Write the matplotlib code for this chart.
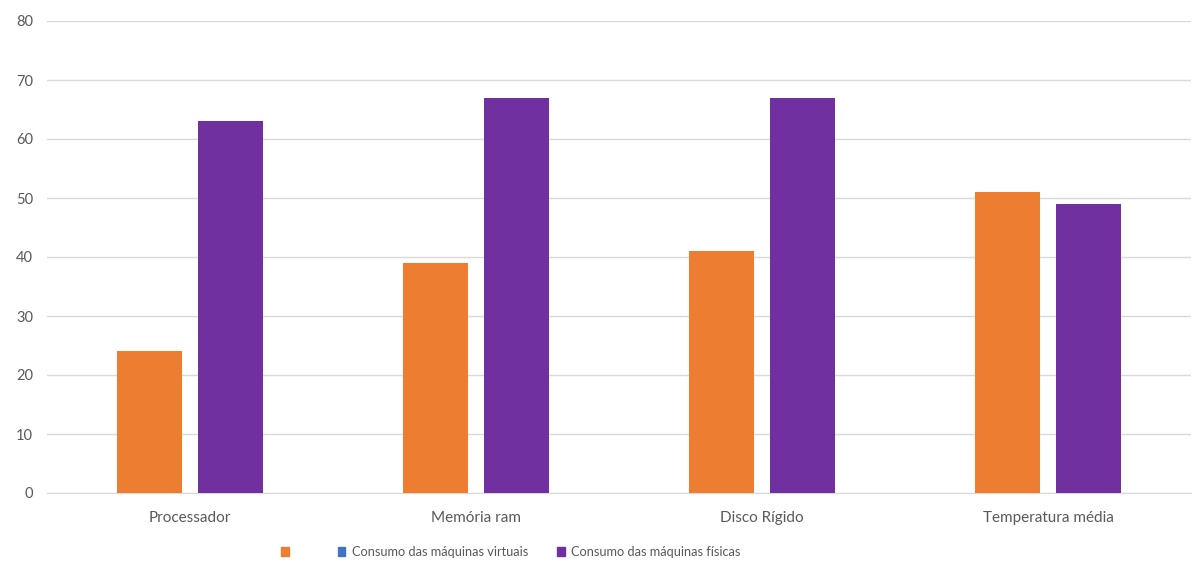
import matplotlib
matplotlib.use("Agg")
import matplotlib.pyplot as plt
import numpy as np
from matplotlib.patches import Patch

categories = ["Processador", "Memória ram", "Disco Rígido", "Temperatura média"]
serie_sem_nome = [24, 39, 41, 51]
consumo_fisicas = [63, 67, 67, 49]
legend_labels = ["    ", "Consumo das máquinas virtuais", "Consumo das máquinas físicas"]
y_ticks = [0, 10, 20, 30, 40, 50, 60, 70, 80]

ORANGE = "#ED7D31"
BLUE = "#4472C4"
PURPLE = "#7030A0"
GRID = "#D9D9D9"
TXT = "#595959"

plt.rcParams["font.family"] = ["Lato", "DejaVu Sans"]

fig = plt.figure(figsize=(11.95, 5.74), dpi=100)
ax = fig.add_axes([47/1195, 81/574, (1191-47)/1195, (493-21)/574])

x = np.arange(len(categories))
w = 0.224
off = 0.1416
ax.bar(x - off, serie_sem_nome, width=w, color=ORANGE, zorder=3)
ax.bar(x + off, consumo_fisicas, width=w, color=PURPLE, zorder=3)

ax.set_xlim(-0.5, len(categories) - 0.5)
ax.set_ylim(0, 80)
ax.set_yticks(y_ticks)
ax.set_yticklabels([str(t) for t in y_ticks])
ax.set_xticks(x)
ax.set_xticklabels(categories)
ax.tick_params(axis="both", length=0, colors=TXT)
ax.tick_params(axis="y", pad=10, labelsize=10.5)
ax.tick_params(axis="x", pad=13, labelsize=11)
ax.yaxis.grid(True, color=GRID, linewidth=1, zorder=0)
for s in ["top", "right", "left"]:
    ax.spines[s].set_visible(False)
ax.spines["bottom"].set_color(GRID)
ax.spines["bottom"].set_zorder(1)

handles = [Patch(color=ORANGE), Patch(color=BLUE), Patch(color=PURPLE)]
fig.legend(handles, legend_labels, loc="center", bbox_to_anchor=(511/1195, 1 - 552/574),
           ncol=3, frameon=False, fontsize=9.2, labelcolor=TXT,
           handlelength=0.6, handleheight=0.6, handletextpad=0.5, columnspacing=2.3)

fig.savefig("out.png", dpi=100, facecolor="white")
